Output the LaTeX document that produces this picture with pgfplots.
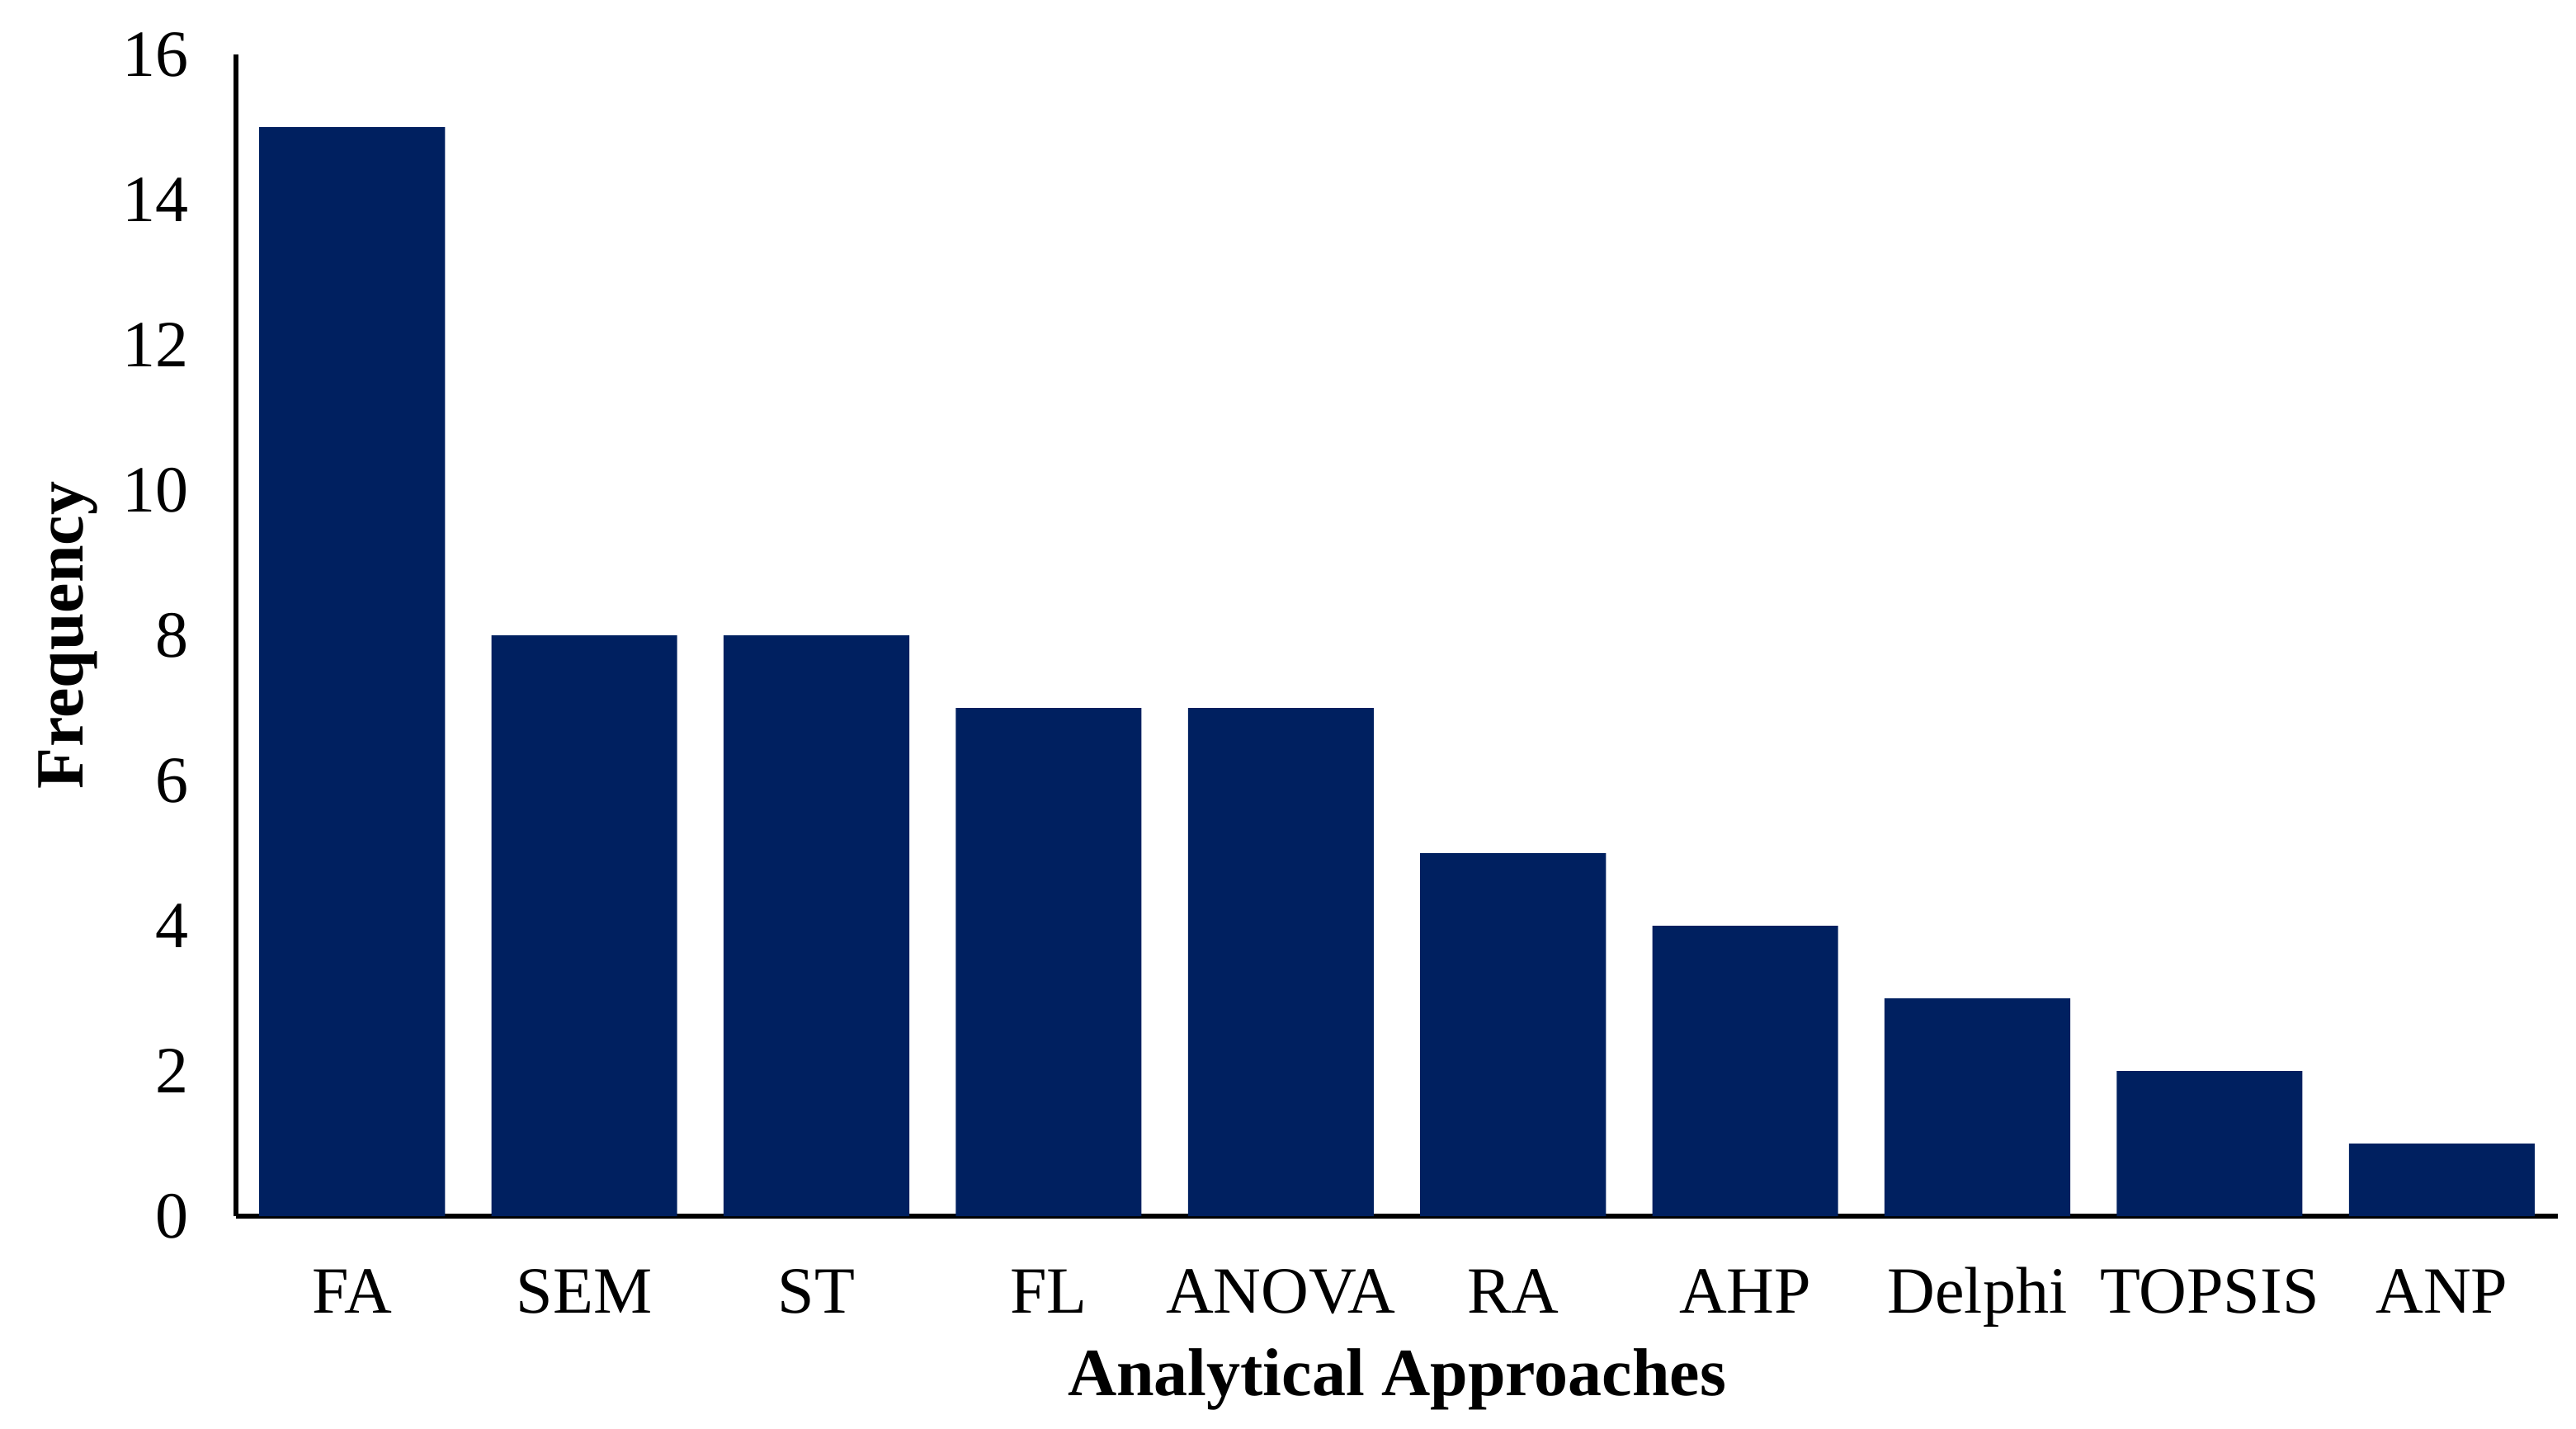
\documentclass[border=0pt]{standalone}
\usepackage{fontspec}
\setmainfont{Liberation Serif}
\usepackage{pgfplots}
\pgfplotsset{compat=1.18}
\definecolor{barblue}{HTML}{002060}
\begin{document}
\begin{tikzpicture}
\begin{axis}[
  name=ax,
  scale only axis,
  width=562.8pt, height=281.6pt,
  xmin=-0.5, xmax=9.5, ymin=0, ymax=16,
  axis x line=bottom, axis y line=left,
  axis line style={-, line width=1.2pt, black},
  xtick={0,...,9},
  xticklabels={FA,SEM,ST,FL,ANOVA,RA,AHP,Delphi,TOPSIS,ANP},
  ytick={0,2,...,16},
  major tick length=0pt,
  /pgf/number format/assume math mode=true,
  tick label style={font=\fontsize{16}{19}\selectfont},
  xticklabel style={anchor=base, yshift=-23.4pt},
  yticklabel style={anchor=east, xshift=-8pt},
  xlabel={\textbf{Analytical Approaches}},
  ylabel={\textbf{Frequency}},
  label style={font=\fontsize{16.4}{19}\selectfont},
  xlabel style={at={(axis description cs:0.5,0)}, anchor=center, yshift=-39.6pt},
  ylabel style={at={(axis description cs:0,0.5)}, anchor=center, yshift=40.6pt},
  ybar, bar width=0.8,
]
\addplot[fill=barblue, draw=none] coordinates {
  (0,15) (1,8) (2,8) (3,7) (4,7) (5,5) (6,4) (7,3) (8,2) (9,1)
};
\end{axis}
\path (ax.south west) ++(-57.2pt,-51.4pt);
\path (ax.north east) ++(4.4pt,13.2pt);
\end{tikzpicture}
\end{document}
